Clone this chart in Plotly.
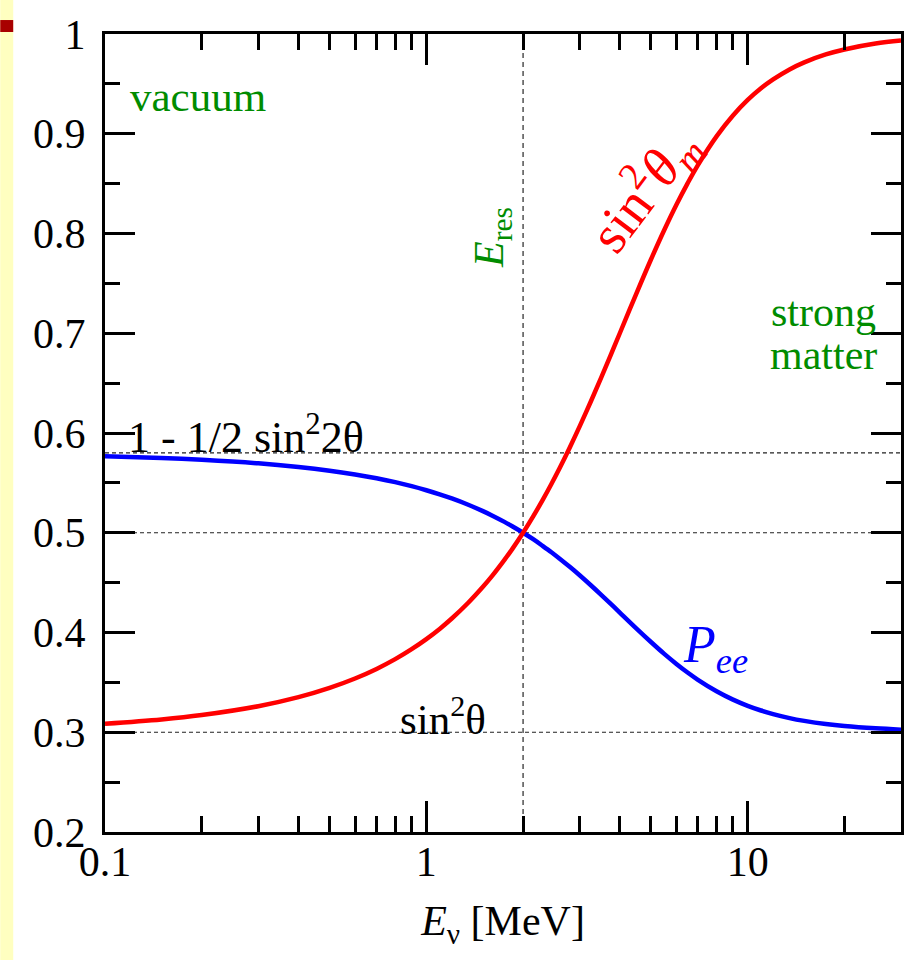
import plotly.graph_objects as go

# ---- data ----
energy = [0.1, 0.15, 0.2, 0.3, 0.4, 0.5, 0.6, 0.7, 0.8, 0.9, 1.0, 1.1, 1.2, 1.35, 1.5,
          1.6, 1.75, 1.85, 2.0, 2.15, 2.3, 2.45, 2.6, 2.8, 3.0, 3.25, 3.5, 3.75, 4.0,
          4.5, 5.0, 5.5, 6.0, 6.5, 7.0, 8.0, 9.0, 10.0, 11.0, 12.0, 13.5, 15.0, 17.5,
          20.0, 25.0, 30.0]
sin2_theta_m = [0.3085, 0.3128, 0.3172, 0.3261, 0.3352, 0.3445, 0.3539, 0.3635, 0.3733,
                0.3833, 0.3934, 0.4036, 0.4140, 0.4298, 0.4458, 0.4565, 0.4728, 0.4836,
                0.5000, 0.5164, 0.5327, 0.5489, 0.5649, 0.5860, 0.6066, 0.6316, 0.6555,
                0.6784, 0.7000, 0.7395, 0.7739, 0.8035, 0.8288, 0.8503, 0.8686, 0.8974,
                0.9183, 0.9339, 0.9456, 0.9545, 0.9645, 0.9716, 0.9795, 0.9845, 0.9904,
                0.9934]
p_ee = [0.5766, 0.5749, 0.5731, 0.5696, 0.5659, 0.5622, 0.5584, 0.5546, 0.5507, 0.5467,
        0.5426, 0.5385, 0.5344, 0.5281, 0.5217, 0.5174, 0.5109, 0.5065, 0.5000, 0.4935,
        0.4869, 0.4805, 0.4740, 0.4656, 0.4574, 0.4474, 0.4378, 0.4287, 0.4200, 0.4042,
        0.3905, 0.3786, 0.3685, 0.3599, 0.3526, 0.3411, 0.3327, 0.3265, 0.3218, 0.3182,
        0.3142, 0.3114, 0.3082, 0.3062, 0.3039, 0.3026]
ref_levels = [0.58, 0.5, 0.3]
e_res = 2.0
x_tickvals = [0.1, 1, 10]
x_ticktext = ["0.1", "1", "10"]
x_minor = [0.2, 0.3, 0.4, 0.5, 0.6, 0.7, 0.8, 0.9, 2, 3, 4, 5, 6, 7, 8, 9, 20, 30]
y_tickvals = [0.2, 0.3, 0.4, 0.5, 0.6, 0.7, 0.8, 0.9, 1.0]
y_ticktext = ["0.2", "0.3", "0.4", "0.5", "0.6", "0.7", "0.8", "0.9", "1"]
y_minor = [0.25, 0.35, 0.45, 0.55, 0.65, 0.75, 0.85, 0.95]

FONT = "Liberation Serif, Times New Roman, serif"
GREEN = "#008C00"

fig = go.Figure()
fig.add_trace(go.Scatter(x=energy, y=p_ee, mode="lines",
                         line=dict(color="#0000FF", width=4.5, shape="spline"), hoverinfo="skip"))
fig.add_trace(go.Scatter(x=energy, y=sin2_theta_m, mode="lines",
                         line=dict(color="#FF0000", width=4.5, shape="spline"), hoverinfo="skip"))

shapes = []
for lv in ref_levels:
    shapes.append(dict(type="line", xref="paper", x0=0, x1=1, yref="y", y0=lv, y1=lv,
                       line=dict(color="#222222", width=1.2, dash="4px,3px"), layer="below"))
shapes.append(dict(type="line", xref="x", x0=e_res, x1=e_res, yref="paper", y0=0, y1=1,
                   line=dict(color="#444444", width=1.4, dash="5px,4px"), layer="below"))
# left yellow strip and dark red mark
shapes.append(dict(type="rect", xref="paper", yref="paper", x0=-0.1316, x1=-0.1153,
                   y0=-0.161, y1=1.043, fillcolor="#FFFFC0", line=dict(width=0), layer="above"))
shapes.append(dict(type="rect", xref="paper", yref="paper", x0=-0.1316, x1=-0.1153,
                   y0=1.0025, y1=1.0175, fillcolor="#A80000", line=dict(width=0), layer="above"))

ann = []
def add(text, px, py, size, color, angle=0, xanchor="center", yanchor="middle"):
    ann.append(dict(text=text, xref="paper", yref="paper",
                    x=(px - 105) / 798, y=(832 - py) / 798,
                    showarrow=False, textangle=angle, xanchor=xanchor, yanchor=yanchor,
                    font=dict(family=FONT, size=size, color=color)))

add("vacuum", 128, 96, 43, GREEN, xanchor="left")
add("strong", 825, 312, 42, GREEN)
add("matter", 825, 355, 42, GREEN)
add("<i>E</i><sub>res</sub>", 493, 238, 42, GREEN, angle=-90)
add("sin<sup>2</sup><i>θ</i><sub><i>m</i></sub>", 644, 190, 55, "#FF0000", angle=-53)
add("<i>P</i><sub><i>ee</i></sub>", 717, 648, 52, "#0000FF")
add("1 - 1/2 sin<sup>2</sup>2θ", 126, 434, 44, "black", xanchor="left")
add("sin<sup>2</sup>θ", 444, 716, 43, "black")

fig.update_layout(
    width=916, height=960,
    margin=dict(l=105, r=13, t=34, b=128),
    paper_bgcolor="white", plot_bgcolor="white",
    showlegend=False,
    font=dict(family=FONT, size=42, color="black"),
    shapes=shapes, annotations=ann,
)
fig.update_xaxes(
    type="log", range=[-1, 1.4771], tickvals=x_tickvals, ticktext=x_ticktext,
    ticks="inside", ticklen=31, tickwidth=2.5, tickcolor="black",
    showline=True, linewidth=3, linecolor="black", mirror="ticks",
    showgrid=False, zeroline=False,
    minor=dict(tickvals=x_minor, ticks="inside", ticklen=16, tickwidth=2.5,
               tickcolor="black", showgrid=False),
    tickfont=dict(family=FONT, size=42, color="black"),
    ticklabelstandoff=-9,
    title=dict(text="<i>E</i><sub>ν</sub> [MeV]", standoff=22,
               font=dict(family=FONT, size=42, color="black")),
)
fig.update_yaxes(
    range=[0.2, 1.0], tickvals=y_tickvals, ticktext=y_ticktext,
    ticks="inside", ticklen=30, tickwidth=2.5, tickcolor="black",
    showline=True, linewidth=3, linecolor="black", mirror="ticks",
    showgrid=False, zeroline=False,
    minor=dict(tickvals=y_minor, ticks="inside", ticklen=15, tickwidth=2.5,
               tickcolor="black", showgrid=False),
    tickfont=dict(family=FONT, size=42, color="black"),
    ticklabelstandoff=8,
)

fig.write_html("out.html", config={"displayModeBar": False},
               post_script="document.body.style.margin='0';")
